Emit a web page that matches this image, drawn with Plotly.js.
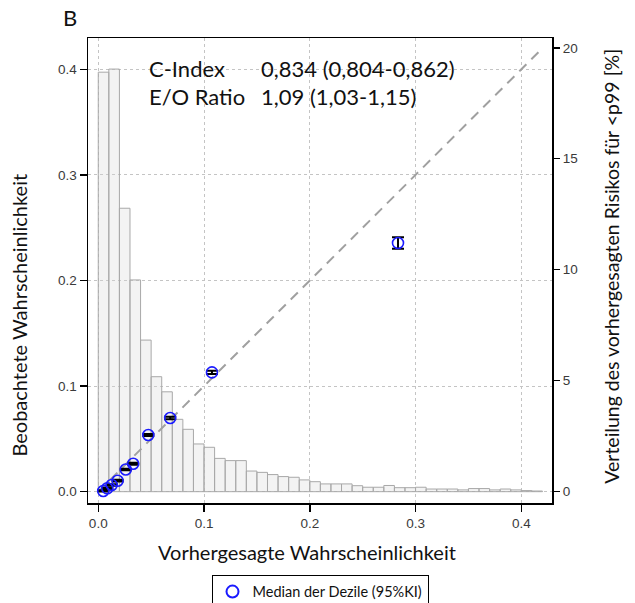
<!DOCTYPE html>
<html>
<head>
<meta charset="utf-8">
<script src="https://cdn.plot.ly/plotly-3.0.1.min.js"></script>
<style>html,body{margin:0;padding:0;background:#fff;}#chart{width:635px;height:603px;}</style>
</head>
<body>
<div id="chart"></div>
<script>
// Histogram of predicted risk (<p99), bin centres in probability, heights in percent
const binCenters = [0.005,0.015,0.025,0.035,0.045,0.055,0.065,0.075,0.085,0.095,
  0.105,0.115,0.125,0.135,0.145,0.155,0.165,0.175,0.185,0.195,
  0.205,0.215,0.225,0.235,0.245,0.255,0.265,0.275,0.285,0.295,
  0.305,0.315,0.325,0.335,0.345,0.355,0.365,0.375,0.385,0.395,
  0.405,0.415];
const binPercent = [18.9,19.04,12.77,9.54,6.83,5.18,4.5,3.26,2.81,2.15,
  2.0,1.5,1.4,1.4,0.93,0.87,0.77,0.68,0.65,0.53,
  0.45,0.35,0.35,0.35,0.27,0.2,0.2,0.28,0.18,0.18,
  0.2,0.12,0.12,0.12,0.08,0.14,0.14,0.08,0.12,0.08,
  0.05,0.03];
// Decile medians: predicted vs observed, with 95% CI half-width on observed
const decPred = [0.0047,0.0085,0.0127,0.0183,0.026,0.033,0.0473,0.068,0.1075,0.2834];
const decObs  = [0.0007,0.0032,0.0063,0.0104,0.021,0.0265,0.0537,0.0698,0.113,0.2355];
const decErr  = [0.0006,0.0006,0.0007,0.0008,0.0008,0.0009,0.001,0.0012,0.0015,0.0055];
const diagX = [0, 0.42];
const diagY = [0, 0.42];
const tickVals = [0,0.1,0.2,0.3,0.4];
const tickText = ['0.0','0.1','0.2','0.3','0.4'];
const rightTicks = [0,5,10,15,20];

const tickFont = {family:'Liberation Sans, Arial, sans-serif', size:13.5, color:'#3a3a3a'};
const txtFont = {family:'Lato, Calibri, sans-serif', size:22, color:'#111'};
const lblFont = {family:'Lato, Calibri, sans-serif', size:20, color:'#111'};

const traces = [
  {type:'bar', x:binCenters, y:binPercent, width:0.01, xaxis:'x', yaxis:'y',
   marker:{color:'rgba(215,215,215,0.3)', line:{color:'#a8a8a8', width:1}}, showlegend:false, hoverinfo:'skip'},
  {type:'scatter', mode:'lines', x:diagX, y:diagY, xaxis:'x', yaxis:'y2',
   line:{color:'#a0a0a0', width:2, dash:'10px,7px'}, showlegend:false, hoverinfo:'skip'},
  {type:'scatter', mode:'markers', x:decPred, y:decObs, xaxis:'x', yaxis:'y2', name:'Median der Dezile (95%KI)',
   marker:{symbol:'circle-open', size:11, color:'#1a1aff', line:{width:1.6, color:'#1a1aff'}},
   error_y:{type:'data', array:decErr, visible:true, color:'#000', thickness:2, width:6}}
];

const layout = {
  width:635, height:603,
  margin:{l:88, r:83, t:38, b:100},
  paper_bgcolor:'#fff', plot_bgcolor:'#fff',
  bargap:0,
  showlegend:true,
  legend:{orientation:'h', xref:'paper', x:0.5, xanchor:'center', yref:'container', y:0.047, yanchor:'top',
    bordercolor:'#000', borderwidth:1, itemsizing:'constant',
    font:{family:'Lato, Calibri, sans-serif', size:14.5, color:'#111'}},
  xaxis:{range:[-0.0097,0.429], tickvals:tickVals, ticktext:tickText, ticks:'outside', ticklen:7, tickwidth:1.5,
    tickcolor:'#000', showline:true, linecolor:'#000', linewidth:1.5, mirror:true, zeroline:false,
    showgrid:true, gridcolor:'#c4c4c4', griddash:'dot', gridwidth:1, tickfont:tickFont},
  yaxis:{side:'right', range:[-0.51,20.44], tickvals:rightTicks, ticks:'outside', ticklen:7,
    tickwidth:1.5, tickcolor:'#000', showgrid:false, zeroline:false, showline:false, tickfont:tickFont},
  yaxis2:{overlaying:'y', side:'left', range:[-0.0107,0.4296], tickvals:tickVals, ticktext:tickText,
    ticks:'outside', ticklen:7, tickwidth:1.5, tickcolor:'#000', showline:true, linecolor:'#000', linewidth:1.5,
    mirror:true, zeroline:false, showgrid:true, gridcolor:'#c4c4c4', griddash:'dot', gridwidth:1, tickfont:tickFont},
  annotations:[
    {xref:'paper', yref:'paper', x:-0.058, y:1.044, xanchor:'left', yanchor:'middle', text:'B', showarrow:false,
     font:{family:'Lato, Calibri, sans-serif', size:22, color:'#111'}},
    {xref:'paper', yref:'paper', x:0.127, y:0.935, xanchor:'left', yanchor:'middle', text:'C-Index', showarrow:false, font:txtFont},
    {xref:'paper', yref:'paper', x:0.369, y:0.935, xanchor:'left', yanchor:'middle', text:'0,834 (0,804-0,862)', showarrow:false, font:txtFont},
    {xref:'paper', yref:'paper', x:0.127, y:0.875, xanchor:'left', yanchor:'middle', text:'E/O Ratio', showarrow:false, font:txtFont},
    {xref:'paper', yref:'paper', x:0.369, y:0.875, xanchor:'left', yanchor:'middle', text:'1,09 (1,03-1,15)', showarrow:false, font:txtFont},
    {xref:'paper', yref:'paper', x:0.473, y:-0.105, xanchor:'center', yanchor:'middle', text:'Vorhergesagte Wahrscheinlichkeit', showarrow:false, font:lblFont},
    {xref:'paper', yref:'paper', x:-0.149, y:0.405, xanchor:'center', yanchor:'middle', textangle:-90, text:'Beobachtete Wahrscheinlichkeit', showarrow:false, font:lblFont},
    {xref:'paper', yref:'paper', x:1.129, y:0.51, xanchor:'center', yanchor:'middle', textangle:-90, text:'Verteilung des vorhergesagten Risikos für <p99 [%]', showarrow:false,
     font:{family:'Lato, Calibri, sans-serif', size:19.5, color:'#111'}}
  ]
};

Plotly.newPlot('chart', traces, layout, {displayModeBar:false, staticPlot:true});
</script>
</body>
</html>
